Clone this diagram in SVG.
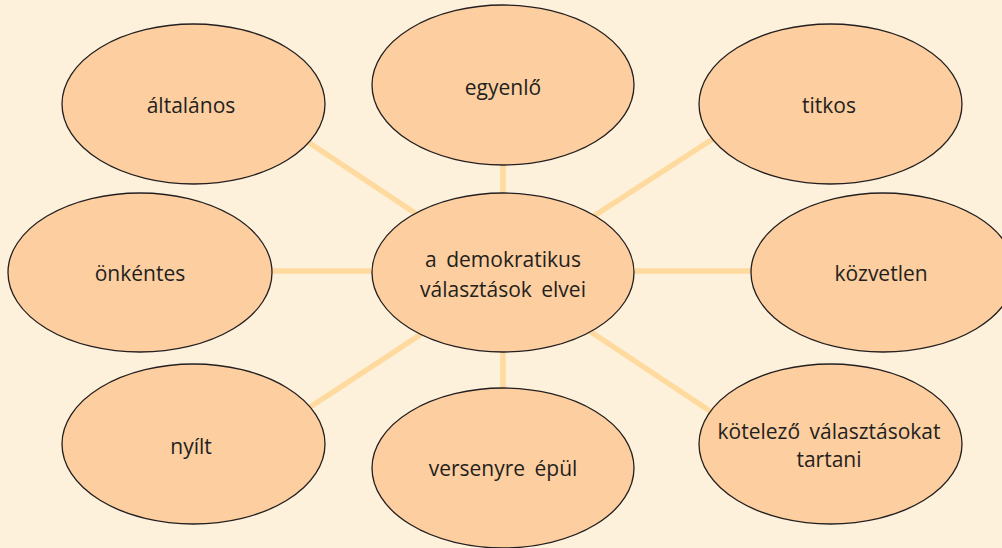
<svg xmlns="http://www.w3.org/2000/svg" width="1002" height="548" viewBox="0 0 1002 548">
<style>
.n{fill:#FDCE9F;stroke:#231F20;stroke-width:1.3}
.t{font-family:"Open Sans","Noto Sans",sans-serif;font-size:21px;fill:#231F20;text-anchor:middle}
.c line{stroke:#FEDA9F;stroke-width:5.5}
</style>
<rect width="1002" height="548" fill="#FDF1DC"/>
<g class="c" id="connectors">
<line x1="290" y1="130" x2="430" y2="223"/>
<line x1="503" y1="150" x2="503" y2="210"/>
<line x1="725" y1="131" x2="580" y2="225"/>
<line x1="260" y1="271" x2="385" y2="271"/>
<line x1="620" y1="271" x2="765" y2="271"/>
<line x1="295" y1="417" x2="432" y2="327"/>
<line x1="503" y1="335" x2="503" y2="400"/>
<line x1="576" y1="322" x2="725" y2="421"/>
</g>
<g id="n-altalanos"><ellipse class="n" cx="193.5" cy="104" rx="131.5" ry="80"/><text class="t" x="191" y="113">általános</text></g>
<g id="n-egyenlo"><ellipse class="n" cx="503" cy="85" rx="131" ry="80"/><text class="t" x="503" y="95">egyenlő</text></g>
<g id="n-titkos"><ellipse class="n" cx="830.5" cy="104" rx="131.5" ry="80"/><text class="t" x="829" y="113">titkos</text></g>
<g id="n-onkentes"><ellipse class="n" cx="140" cy="272.5" rx="132" ry="79.5"/><text class="t" x="140" y="281">önkéntes</text></g>
<g id="n-center"><ellipse class="n" cx="503" cy="272.5" rx="131" ry="79.5"/><text class="t" x="503" y="267" word-spacing="4">a demokratikus</text><text class="t" x="503" y="297" word-spacing="4">választások elvei</text></g>
<g id="n-kozvetlen"><ellipse class="n" cx="883" cy="272.5" rx="132" ry="79.5"/><text class="t" x="881" y="281">közvetlen</text></g>
<g id="n-nyilt"><ellipse class="n" cx="193.5" cy="444" rx="131.5" ry="80"/><text class="t" x="191" y="454">nyílt</text></g>
<g id="n-versenyre"><ellipse class="n" cx="503" cy="468" rx="131" ry="80"/><text class="t" x="503" y="476" word-spacing="4">versenyre épül</text></g>
<g id="n-kotelezo"><ellipse class="n" cx="830.5" cy="444" rx="131.5" ry="80"/><text class="t" x="829" y="439" word-spacing="4">kötelező választásokat</text><text class="t" x="829" y="467">tartani</text></g>
</svg>
